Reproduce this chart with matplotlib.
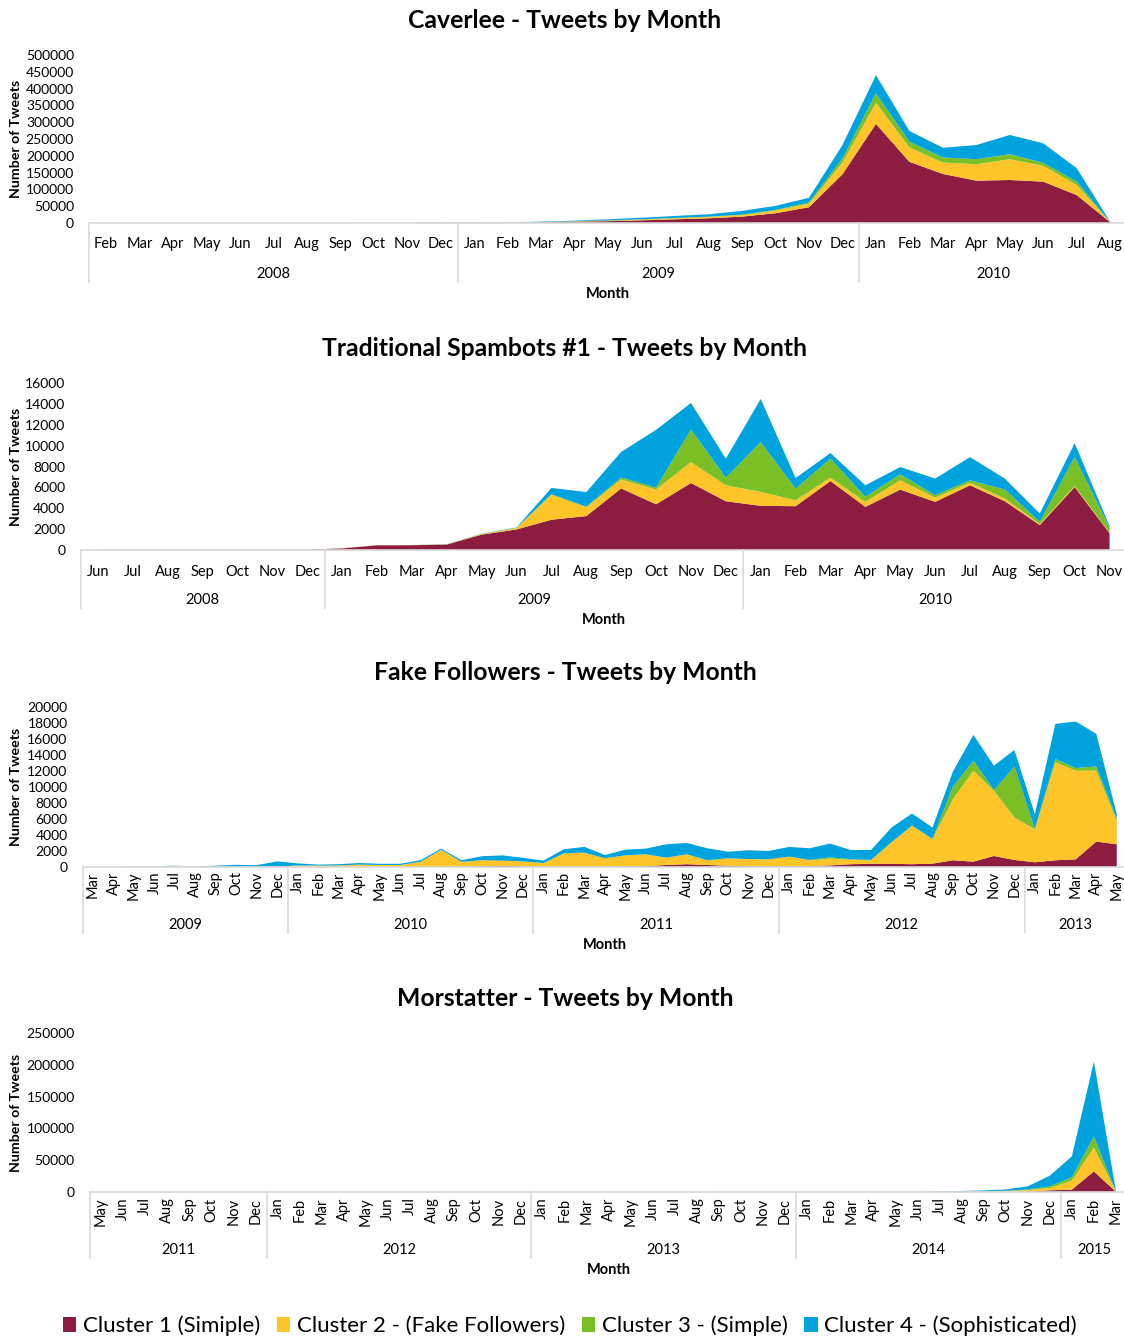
import numpy as np
import matplotlib
matplotlib.use("Agg")
import matplotlib.pyplot as plt
import matplotlib.transforms as mtransforms
from matplotlib.patches import Patch

plt.rcParams.update({"font.family": ["Lato", "DejaVu Sans"], "font.size": 10})

COLORS = ["#8C1D40", "#FDC52A", "#7ABF26", "#00A3DE"]
LEGEND = ["Cluster 1 (Simiple)", "Cluster 2 - (Fake Followers)",
          "Cluster 3 - (Simple)", "Cluster 4 - (Sophisticated)"]
MONTHS = ["Jan", "Feb", "Mar", "Apr", "May", "Jun", "Jul", "Aug", "Sep", "Oct", "Nov", "Dec"]

# ---- Caverlee: Feb 2008 .. Aug 2010
cav_start, cav_end = (2008, 2), (2010, 8)
cav_c1 = [0, 0, 0, 0, 0, 0, 0, 0, 0, 100, 200,
          400, 800, 2000, 4000, 5500, 8000, 11000, 14000, 19000, 29000, 47000, 145000,
          295000, 182000, 146000, 126000, 128000, 123000, 83000, 2000]
cav_c2 = [0, 0, 0, 0, 0, 0, 0, 0, 0, 50, 100,
          200, 300, 500, 1000, 1500, 2500, 3000, 4000, 4500, 8000, 11000, 35000,
          63000, 43000, 34000, 49000, 62000, 47000, 30000, 500]
cav_c3 = [0, 0, 0, 0, 0, 0, 0, 0, 0, 20, 50,
          100, 100, 200, 300, 500, 700, 1000, 1000, 1500, 2000, 3000, 12000,
          28000, 17000, 15000, 15000, 15000, 9000, 10000, 300]
cav_c4 = [0, 0, 0, 0, 0, 0, 0, 0, 100, 600, 900,
          300, 800, 1300, 1700, 3500, 4500, 6000, 7000, 11000, 12000, 14000, 40000,
          54000, 32000, 29000, 42000, 57000, 58000, 40000, 500]

# ---- Traditional Spambots #1: Jun 2008 .. Nov 2010
sp_start, sp_end = (2008, 6), (2010, 11)
sp_c1 = [20, 30, 30, 30, 30, 30, 40,
         150, 450, 460, 520, 1470, 1970, 2900, 3250, 5900, 4380, 6420, 4670,
         4230, 4200, 6610, 4130, 5790, 4610, 6200, 4670, 2390, 6040, 1600]
sp_c2 = [0, 0, 0, 0, 0, 0, 0,
         10, 10, 10, 20, 60, 120, 2400, 850, 850, 1420, 2010, 1530,
         1340, 570, 320, 480, 890, 410, 250, 260, 100, 100, 50]
sp_c3 = [0, 0, 0, 0, 0, 0, 0,
         5, 5, 5, 10, 20, 40, 50, 50, 200, 180, 3110, 730,
         4770, 1110, 1820, 480, 570, 230, 230, 860, 210, 2760, 500]
sp_c4 = [0, 0, 0, 0, 0, 0, 0,
         5, 5, 5, 10, 20, 30, 600, 1400, 2450, 5530, 2550, 1820,
         4130, 1020, 540, 1110, 700, 1590, 2220, 1050, 800, 1340, 150]

# ---- Fake Followers: Mar 2009 .. May 2013
ff_start, ff_end = (2009, 3), (2013, 5)
ff_c1 = [0, 0, 0, 0, 0, 0, 0, 0, 0, 0,
         0, 0, 0, 0, 0, 0, 0, 0, 50, 100, 150, 100,
         50, 50, 50, 50, 100, 100, 250, 350, 250, 150, 100, 100,
         100, 100, 200, 350, 400, 400, 350, 420, 840, 670, 1380, 880,
         590, 840, 960, 3180, 2840]
ff_c2 = [20, 30, 40, 60, 80, 30, 20, 20, 30, 50,
         200, 180, 200, 300, 250, 250, 650, 2150, 600, 750, 650, 600,
         450, 1660, 1750, 1040, 1360, 1490, 920, 1240, 590, 940, 900, 860,
         1200, 740, 840, 570, 440, 2650, 4790, 3050, 7650, 11370, 8150, 5310,
         4130, 12240, 11080, 8860, 2930]
ff_c3 = [0, 0, 10, 30, 60, 10, 0, 0, 0, 0,
         0, 0, 0, 0, 0, 0, 0, 0, 0, 0, 0, 0,
         0, 0, 0, 0, 0, 0, 0, 0, 0, 0, 0, 0,
         0, 50, 170, 50, 50, 50, 50, 50, 1540, 1250, 80, 6350,
         50, 420, 330, 540, 330]
ff_c4 = [10, 10, 20, 20, 20, 30, 150, 250, 200, 650,
         250, 120, 150, 200, 150, 150, 200, 150, 200, 500, 650, 450,
         300, 510, 710, 410, 710, 710, 1670, 1420, 1500, 830, 1090, 1050,
         1210, 1450, 1720, 1160, 1240, 1830, 1500, 1410, 1920, 3220, 3060, 2090,
         1830, 4390, 5810, 4060, 500]

# ---- Morstatter: May 2011 .. Mar 2015
mo_start, mo_end = (2011, 5), (2015, 3)
mo_c1 = [0] * 8 + [0] * 12 + [0] * 12 + \
        [20, 20, 30, 30, 50, 50, 100, 100, 200, 300, 500, 2600] + [3700, 32400, 300]
mo_c2 = [0] * 8 + [0] * 12 + [0, 0, 0, 0, 0, 0, 10, 10, 10, 10, 20, 20] + \
        [50, 50, 80, 100, 100, 150, 300, 400, 700, 1200, 2500, 3700] + [14100, 37600, 300]
mo_c3 = [0] * 8 + [0] * 12 + [0] * 12 + \
        [20, 20, 30, 30, 50, 50, 100, 200, 300, 500, 900, 2600] + [5200, 17300, 200]
mo_c4 = [0] * 8 + [0] * 12 + [0, 0, 0, 0, 0, 0, 0, 0, 20, 30, 50, 50] + \
        [100, 100, 150, 200, 250, 300, 700, 900, 1300, 2000, 5000, 16700] + [33000, 117700, 500]

W, H = 1124, 1339


def month_range(start, end):
    (y, m), out = start, []
    while (y, m) <= end:
        out.append((y, m))
        m += 1
        if m > 12:
            y, m = y + 1, 1
    return out


def panel(fig, title, start, end, series, ymax, ystep, box, rotate,
          title_y, pad, depth):
    left, right, top, base = box
    h = base - top
    ax = fig.add_axes([left / W, 1 - base / H, (right - left) / W, h / H])
    months = month_range(start, end)
    n = len(months)
    x = np.arange(n)
    ax.stackplot(x, *series, colors=COLORS, linewidth=0)
    ax.set_xlim(-0.5, n - 0.5)
    ax.set_ylim(0, ymax)
    ticks = np.arange(0, ymax + 1, ystep)
    ax.set_yticks(ticks)
    ax.set_yticklabels([f"{v:d}" for v in ticks], fontsize=10)
    ax.set_xticks(x)
    ax.set_xticklabels([MONTHS[m - 1] for _, m in months],
                       rotation=90 if rotate else 0, fontsize=10.5,
                       va="top", ha="center")
    ax.tick_params(axis="x", length=0, pad=pad)
    ax.tick_params(axis="y", length=0, pad=11)
    for s in ["top", "right", "left"]:
        ax.spines[s].set_visible(False)
    ax.spines["bottom"].set_color("#d9d9d9")
    ax.spines["bottom"].set_linewidth(1.2)

    # year grouping under the month labels
    tr = mtransforms.blended_transform_factory(ax.transData, ax.transAxes)
    d = depth / h
    years = [y for y, _ in months]
    bounds = [-0.5] + [i - 0.5 for i in range(1, n) if years[i] != years[i - 1]] + [n - 0.5]
    for b in bounds:
        ax.plot([b, b], [0, -d], color="#d9d9d9", lw=1.2, transform=tr, clip_on=False)
    for a, b in zip(bounds[:-1], bounds[1:]):
        ax.text((a + b) / 2, -(depth - 8) / h, str(years[int(a + 0.5)]),
                transform=tr, ha="center", va="center", fontsize=10.5)
    ax.text((n - 1) / 2, -(depth + 12) / h, "Month", transform=tr,
            ha="center", va="center", fontsize=10.5, fontweight="bold")
    fig.text(565 / W, 1 - title_y / H, title, ha="center", va="center",
             fontsize=17.8, fontweight="bold")
    fig.text(16 / W, 1 - (top + base) / 2 / H, "Number of Tweets", rotation=90,
             ha="center", va="center", fontsize=10.2, fontweight="bold")
    return ax


fig = plt.figure(figsize=(W / 100, H / 100), dpi=100)
panel(fig, "Caverlee - Tweets by Month", cav_start, cav_end,
      [cav_c1, cav_c2, cav_c3, cav_c4], 500000, 50000,
      (89.3, 1127, 55, 223), False, 20, 10, 59)
panel(fig, "Traditional Spambots #1 - Tweets by Month", sp_start, sp_end,
      [sp_c1, sp_c2, sp_c3, sp_c4], 16000, 2000,
      (80.5, 1127, 383, 550), False, 348, 11, 58)
panel(fig, "Fake Followers - Tweets by Month", ff_start, ff_end,
      [ff_c1, ff_c2, ff_c3, ff_c4], 20000, 2000,
      (82.8, 1127, 707, 867), True, 673, 3, 66)
panel(fig, "Morstatter - Tweets by Month", mo_start, mo_end,
      [mo_c1, mo_c2, mo_c3, mo_c4], 250000, 50000,
      (90, 1127, 1033, 1192), True, 998, 4, 66)

handles = [Patch(facecolor=c, edgecolor="none") for c in COLORS]
fig.legend(handles, LEGEND, loc="center", bbox_to_anchor=(570 / W, 1 - 1326 / H),
           ncol=4, frameon=False, fontsize=16, handlelength=0.6, handleheight=0.6,
           handletextpad=0.3, columnspacing=0.75)

fig.savefig("out.png", dpi=100)
